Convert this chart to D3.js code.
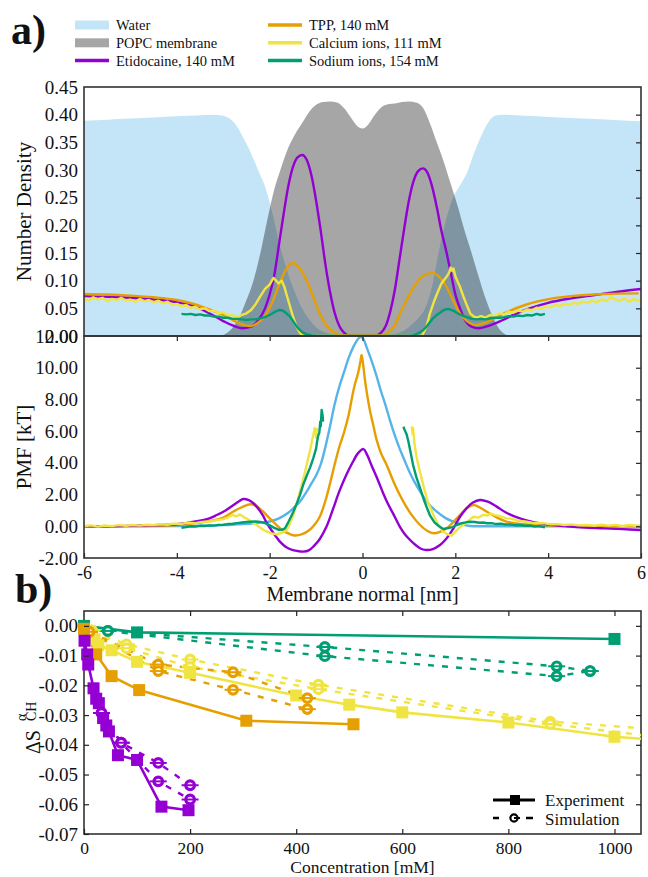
<!DOCTYPE html>
<html><head><meta charset="utf-8">
<script src="https://cdn.jsdelivr.net/npm/d3@7"></script>
<style>
body{margin:0;background:#fff}
svg{display:block}
svg text{font-family:"Liberation Serif","Times New Roman","Nimbus Roman","DejaVu Serif",serif !important;fill:#111}
</style>
</head><body>
<svg id="c" width="648" height="877"></svg>
<script>
// ---------- Panel a: number density ----------
const densWater = [[-6,0.389],[-5.5,0.391],[-5,0.393],[-4.5,0.395],[-4,0.397],[-3.5,0.399],[-3.2,0.400],[-3.0,0.398],[-2.85,0.392],[-2.7,0.378],[-2.55,0.355],[-2.4,0.33],[-2.25,0.30],[-2.1,0.27],[-1.95,0.225],[-1.8,0.17],[-1.65,0.125],[-1.5,0.088],[-1.35,0.058],[-1.2,0.036],[-1.05,0.02],[-0.9,0.01],[-0.75,0.005],[-0.6,0.002],[-0.4,0],[0.4,0],[0.6,0.002],[0.75,0.005],[0.9,0.01],[1.05,0.02],[1.2,0.032],[1.35,0.05],[1.5,0.09],[1.65,0.155],[1.8,0.21],[1.95,0.25],[2.1,0.272],[2.25,0.295],[2.4,0.33],[2.55,0.36],[2.7,0.385],[2.85,0.398],[3.0,0.400],[3.5,0.398],[4,0.396],[4.5,0.394],[5,0.392],[5.5,0.390],[6,0.388]];
const densMembrane = [[-6,0],[-3.1,0],[-2.95,0.004],[-2.8,0.015],[-2.65,0.035],[-2.5,0.065],[-2.35,0.10],[-2.2,0.15],[-2.05,0.21],[-1.9,0.265],[-1.75,0.305],[-1.6,0.34],[-1.45,0.365],[-1.3,0.385],[-1.15,0.405],[-1.0,0.418],[-0.85,0.423],[-0.7,0.424],[-0.55,0.422],[-0.4,0.412],[-0.25,0.395],[-0.12,0.38],[0,0.375],[0.12,0.382],[0.25,0.398],[0.4,0.413],[0.55,0.419],[0.7,0.42],[0.85,0.423],[1.0,0.424],[1.15,0.422],[1.3,0.413],[1.45,0.385],[1.6,0.35],[1.75,0.315],[1.9,0.275],[2.05,0.235],[2.2,0.19],[2.35,0.15],[2.5,0.108],[2.65,0.068],[2.8,0.036],[2.95,0.012],[3.1,0.002],[3.2,0],[6,0]];
const densEtidocaine = [[-6,0.072],[-5.5,0.071],[-5,0.069],[-4.5,0.066],[-4,0.061],[-3.6,0.053],[-3.3,0.041],[-3.0,0.027],[-2.8,0.019],[-2.6,0.014],[-2.4,0.017],[-2.25,0.028],[-2.1,0.05],[-2.0,0.075],[-1.9,0.11],[-1.8,0.165],[-1.7,0.22],[-1.6,0.27],[-1.5,0.305],[-1.4,0.323],[-1.3,0.327],[-1.2,0.318],[-1.1,0.29],[-1.0,0.245],[-0.9,0.19],[-0.8,0.13],[-0.7,0.08],[-0.6,0.042],[-0.5,0.018],[-0.4,0.006],[-0.3,0.001],[0.3,0.001],[0.4,0.006],[0.5,0.018],[0.6,0.045],[0.7,0.085],[0.8,0.14],[0.9,0.195],[1.0,0.245],[1.1,0.28],[1.2,0.298],[1.3,0.303],[1.4,0.295],[1.5,0.27],[1.6,0.233],[1.7,0.19],[1.8,0.155],[1.9,0.115],[2.0,0.075],[2.1,0.05],[2.2,0.03],[2.35,0.017],[2.5,0.014],[2.7,0.018],[3.0,0.028],[3.3,0.04],[3.6,0.05],[4,0.06],[4.5,0.068],[5,0.074],[5.5,0.08],[6,0.085]];
const densTPP = [[-6,0.076],[-5.5,0.075],[-5,0.073],[-4.5,0.07],[-4,0.065],[-3.6,0.057],[-3.3,0.048],[-3.0,0.038],[-2.8,0.029],[-2.6,0.021],[-2.42,0.018],[-2.25,0.024],[-2.1,0.036],[-1.95,0.06],[-1.8,0.092],[-1.65,0.12],[-1.5,0.132],[-1.35,0.122],[-1.2,0.10],[-1.05,0.068],[-0.92,0.04],[-0.8,0.022],[-0.7,0.012],[-0.55,0.004],[-0.4,0.001],[0.4,0.001],[0.55,0.006],[0.7,0.02],[0.81,0.041],[0.95,0.065],[1.1,0.088],[1.24,0.104],[1.38,0.112],[1.52,0.114],[1.66,0.106],[1.81,0.089],[1.95,0.065],[2.1,0.041],[2.25,0.027],[2.45,0.02],[2.7,0.026],[3.03,0.04],[3.5,0.056],[4.1,0.068],[4.6,0.073],[5.2,0.076],[5.95,0.077]];
const densCalcium = [[-6,0.068],[-5.9,0.064],[-5.8,0.07],[-5.7,0.066],[-5.6,0.069],[-5.5,0.063],[-5.4,0.067],[-5.3,0.065],[-5.2,0.069],[-5.1,0.064],[-5,0.066],[-4.9,0.062],[-4.8,0.067],[-4.7,0.063],[-4.6,0.065],[-4.5,0.061],[-4.4,0.064],[-4.3,0.059],[-4.2,0.062],[-4.1,0.057],[-4,0.058],[-3.9,0.054],[-3.8,0.056],[-3.7,0.051],[-3.6,0.053],[-3.5,0.048],[-3.4,0.05],[-3.3,0.045],[-3.2,0.046],[-3.1,0.041],[-3,0.043],[-2.9,0.037],[-2.8,0.038],[-2.7,0.034],[-2.6,0.038],[-2.5,0.041],[-2.4,0.047],[-2.3,0.058],[-2.2,0.072],[-2.1,0.085],[-2.0,0.093],[-1.92,0.105],[-1.86,0.1],[-1.81,0.095],[-1.74,0.1],[-1.68,0.088],[-1.62,0.07],[-1.56,0.053],[-1.49,0.033],[-1.42,0.017],[-1.35,0.006],[-1.28,0],[1.28,0],[1.38,0.017],[1.45,0.04],[1.53,0.06],[1.6,0.075],[1.7,0.095],[1.81,0.107],[1.87,0.115],[1.9,0.124],[1.93,0.118],[1.96,0.122],[2.0,0.108],[2.05,0.098],[2.1,0.089],[2.18,0.07],[2.25,0.055],[2.32,0.041],[2.4,0.035],[2.46,0.033],[2.55,0.036],[2.65,0.033],[2.75,0.038],[2.85,0.036],[2.95,0.041],[3.05,0.039],[3.15,0.044],[3.25,0.042],[3.35,0.046],[3.45,0.044],[3.55,0.048],[3.65,0.047],[3.75,0.051],[3.85,0.049],[3.95,0.053],[4.05,0.052],[4.15,0.056],[4.25,0.054],[4.35,0.058],[4.45,0.056],[4.55,0.06],[4.65,0.058],[4.75,0.062],[4.85,0.06],[4.95,0.064],[5.05,0.061],[5.15,0.066],[5.25,0.063],[5.35,0.07],[5.45,0.066],[5.55,0.064],[5.65,0.068],[5.75,0.062],[5.85,0.067],[5.95,0.063],[6,0.066]];
const densSodium = [[-3.9,0.04],[-3.8,0.039],[-3.7,0.04],[-3.6,0.038],[-3.5,0.039],[-3.4,0.037],[-3.3,0.037],[-3.2,0.035],[-3.1,0.035],[-3.0,0.033],[-2.9,0.033],[-2.8,0.031],[-2.7,0.031],[-2.6,0.03],[-2.5,0.029],[-2.4,0.03],[-2.3,0.03],[-2.2,0.032],[-2.1,0.034],[-2.0,0.038],[-1.9,0.043],[-1.8,0.047],[-1.72,0.046],[-1.64,0.041],[-1.56,0.035],[-1.48,0.025],[-1.4,0.015],[-1.3,0.007],[-1.2,0.003],[-1.1,0.001],[-1.0,0],[1.0,0],[1.1,0.001],[1.2,0.005],[1.3,0.01],[1.38,0.017],[1.45,0.025],[1.52,0.032],[1.6,0.038],[1.67,0.042],[1.75,0.047],[1.85,0.049],[1.95,0.046],[2.05,0.041],[2.15,0.037],[2.25,0.034],[2.35,0.031],[2.45,0.03],[2.55,0.031],[2.65,0.03],[2.75,0.032],[2.85,0.033],[2.95,0.033],[3.05,0.034],[3.15,0.036],[3.25,0.035],[3.35,0.037],[3.45,0.036],[3.55,0.038],[3.65,0.037],[3.75,0.04],[3.85,0.038],[3.93,0.04]];

// ---------- Panel a: PMF ----------
const pmfBlue = [[-6,0],[-5,0],[-4,0.01],[-3.5,0.03],[-3.0,0.07],[-2.7,0.12],[-2.4,0.18],[-2.2,0.24],[-2.0,0.3],[-1.8,0.5],[-1.6,0.85],[-1.45,1.25],[-1.35,1.55],[-1.2,2.2],[-1.1,2.7],[-1.0,3.2],[-0.9,3.9],[-0.8,5.0],[-0.7,6.3],[-0.6,7.7],[-0.5,8.8],[-0.4,9.7],[-0.3,10.6],[-0.2,11.3],[-0.1,11.8],[-0.04,11.95],[0.02,11.8],[0.1,11.2],[0.2,10.4],[0.3,9.5],[0.4,8.5],[0.5,7.6],[0.6,6.6],[0.7,5.7],[0.8,4.9],[0.9,4.2],[1.0,3.5],[1.12,2.8],[1.24,2.2],[1.4,1.5],[1.6,0.92],[1.8,0.5],[1.96,0.29],[2.15,0.1],[2.32,0.02],[2.6,0],[6,0]];
const pmfTPP = [[-6,0],[-5,0.01],[-4.5,0.04],[-4,0.08],[-3.6,0.2],[-3.3,0.33],[-3.0,0.55],[-2.8,0.9],[-2.6,1.2],[-2.42,1.39],[-2.3,1.3],[-2.15,0.95],[-2.0,0.5],[-1.85,0.08],[-1.7,-0.3],[-1.56,-0.5],[-1.45,-0.58],[-1.3,-0.5],[-1.15,-0.25],[-1.02,0.15],[-0.92,0.6],[-0.8,1.6],[-0.7,2.7],[-0.6,3.9],[-0.5,5.0],[-0.4,5.9],[-0.3,7.0],[-0.22,8.2],[-0.16,9.0],[-0.1,9.6],[-0.05,10.3],[-0.02,10.8],[0.01,10.3],[0.05,9.3],[0.1,8.3],[0.16,7.3],[0.23,6.4],[0.3,5.5],[0.4,4.6],[0.52,3.87],[0.7,2.6],[0.88,1.55],[1.05,0.75],[1.24,0.08],[1.4,-0.3],[1.53,-0.44],[1.67,-0.35],[1.81,-0.13],[1.95,0.25],[2.1,0.71],[2.25,1.15],[2.39,1.34],[2.52,1.2],[2.68,0.92],[2.9,0.55],[3.1,0.3],[3.4,0.15],[3.75,0.08],[4.5,0.03],[5,0.01],[6,0]];
const pmfEtidocaine = [[-6,0],[-5.5,0],[-5,0.03],[-4.5,0.07],[-4,0.13],[-3.6,0.3],[-3.3,0.5],[-3.14,0.71],[-2.95,1.0],[-2.78,1.34],[-2.65,1.6],[-2.57,1.72],[-2.45,1.65],[-2.35,1.45],[-2.28,1.24],[-2.15,0.7],[-2.06,0.2],[-1.95,-0.3],[-1.85,-0.7],[-1.78,-0.97],[-1.65,-1.3],[-1.5,-1.5],[-1.35,-1.58],[-1.28,-1.6],[-1.15,-1.5],[-1.05,-1.25],[-0.92,-0.8],[-0.78,-0.05],[-0.63,1.13],[-0.5,2.2],[-0.34,3.3],[-0.2,4.1],[-0.1,4.6],[0.02,4.87],[0.1,4.5],[0.2,3.8],[0.32,3.0],[0.45,2.05],[0.55,1.4],[0.66,0.8],[0.8,0.0],[0.9,-0.45],[1.02,-0.85],[1.15,-1.2],[1.25,-1.4],[1.35,-1.49],[1.5,-1.45],[1.67,-1.18],[1.8,-0.8],[1.96,-0.13],[2.1,0.6],[2.24,1.13],[2.38,1.5],[2.53,1.66],[2.7,1.55],[2.89,1.24],[3.1,0.85],[3.39,0.5],[3.7,0.25],[4.1,0.08],[4.6,-0.05],[5.2,-0.13],[5.6,-0.18],[6,-0.23]];
const pmfSodiumL = [[-3.9,-0.09],[-3.8,-0.05],[-3.7,0.0],[-3.6,-0.02],[-3.5,0.03],[-3.4,0.02],[-3.3,0.06],[-3.2,0.04],[-3.1,0.09],[-3.0,0.1],[-2.9,0.14],[-2.8,0.16],[-2.7,0.2],[-2.6,0.24],[-2.5,0.27],[-2.42,0.29],[-2.3,0.3],[-2.2,0.28],[-2.1,0.2],[-2.0,0.06],[-1.9,-0.1],[-1.8,-0.22],[-1.72,-0.2],[-1.67,-0.13],[-1.6,0.25],[-1.54,0.6],[-1.49,0.92],[-1.42,1.4],[-1.35,1.95],[-1.28,2.6],[-1.2,3.2],[-1.13,3.7],[-1.06,4.3],[-1.0,4.9],[-0.97,5.5],[-0.95,5.76],[-0.93,5.9],[-0.91,6.6],[-0.9,6.3],[-0.88,7.33],[-0.86,7.0],[-0.85,6.6]];
const pmfSodiumR = [[0.88,6.28],[0.92,6.0],[0.95,5.8],[0.99,5.33],[1.04,4.6],[1.09,3.86],[1.16,3.1],[1.24,2.4],[1.33,1.6],[1.45,0.71],[1.55,0.25],[1.65,0.0],[1.74,-0.17],[1.84,-0.12],[1.94,-0.05],[2.03,0.08],[2.12,0.18],[2.22,0.25],[2.32,0.29],[2.42,0.27],[2.52,0.22],[2.6,0.24],[2.68,0.19],[2.78,0.2],[2.88,0.14],[2.98,0.16],[3.08,0.11],[3.18,0.12],[3.28,0.07],[3.39,0.08],[3.5,0.03],[3.6,0.05],[3.7,-0.01],[3.8,0.01],[3.93,-0.06]];
const pmfCalciumL = [[-6,0.0],[-5.85,0.06],[-5.7,-0.02],[-5.55,0.05],[-5.4,0.01],[-5.25,0.07],[-5.1,0.03],[-4.95,0.08],[-4.8,0.04],[-4.65,0.1],[-4.5,0.07],[-4.35,0.13],[-4.2,0.1],[-4.05,0.17],[-3.9,0.15],[-3.75,0.22],[-3.6,0.2],[-3.45,0.28],[-3.3,0.3],[-3.15,0.38],[-3.0,0.45],[-2.9,0.55],[-2.8,0.72],[-2.72,0.62],[-2.64,0.75],[-2.56,0.58],[-2.5,0.5],[-2.42,0.35],[-2.35,0.2],[-2.28,0.08],[-2.2,-0.1],[-2.12,-0.25],[-2.06,-0.34],[-1.96,-0.45],[-1.85,-0.5],[-1.74,-0.42],[-1.63,-0.23],[-1.56,0.2],[-1.49,0.71],[-1.4,1.6],[-1.31,2.6],[-1.24,3.4],[-1.17,4.29],[-1.12,4.9],[-1.08,5.5],[-1.06,5.76],[-1.03,6.2],[-1.0,5.6],[-0.98,6.2]];
const pmfCalciumR = [[1.06,6.3],[1.08,5.8],[1.09,6.18],[1.12,5.2],[1.17,4.29],[1.24,3.4],[1.31,2.6],[1.4,1.6],[1.53,0.71],[1.63,0.1],[1.74,-0.34],[1.83,-0.5],[1.92,-0.59],[2.0,-0.35],[2.08,-0.1],[2.17,0.08],[2.28,0.35],[2.39,0.6],[2.5,0.55],[2.6,0.72],[2.7,0.68],[2.75,0.82],[2.85,0.7],[2.95,0.66],[3.1,0.5],[3.2,0.48],[3.35,0.35],[3.5,0.3],[3.65,0.22],[3.75,0.19],[3.9,0.2],[4.05,0.12],[4.2,0.14],[4.35,0.08],[4.5,0.12],[4.65,0.06],[4.83,0.08],[5.0,0.03],[5.15,0.1],[5.3,0.04],[5.45,0.09],[5.6,0.02],[5.75,0.08],[5.9,0.03],[6.0,0.06]];

// ---------- Panel b: order parameter change ----------
const expSodium = [[0,0.0],[100,-0.0022],[1000,-0.0044]];
const simSodiumA = [[45,-0.0017],[454,-0.0071],[891,-0.0136],[954,-0.0152]];
const simSodiumB = [[45,-0.0017],[454,-0.0102],[891,-0.0169],[954,-0.0152]];
const expCalcium = [[5,-0.002],[20,-0.0045],[27,-0.0065],[52,-0.0082],[100,-0.0121],[200,-0.0158],[400,-0.0234],[500,-0.0265],[600,-0.0291],[800,-0.0325],[1000,-0.0373],[1200,-0.0400]];
const simCalciumA = [[15,-0.0015],[80,-0.0062],[200,-0.0113],[442,-0.0198],[879,-0.0322],[1300,-0.0376]];
const simCalciumB = [[15,-0.0015],[80,-0.0075],[200,-0.0138],[442,-0.0213],[879,-0.0330],[1300,-0.0421]];
const expTPP = [[0,-0.001],[23,-0.0096],[52,-0.0169],[104,-0.0216],[306,-0.0319],[508,-0.0331]];
const simTPPA = [[10,-0.002],[140,-0.0130],[281,-0.0156],[421,-0.0243]];
const simTPPB = [[10,-0.002],[140,-0.0152],[281,-0.0215],[421,-0.0280]];
const expEtidocaine = [[1,-0.005],[6,-0.0096],[8,-0.013],[18,-0.021],[23,-0.0245],[28,-0.026],[36,-0.031],[42,-0.0335],[47,-0.0355],[64,-0.0435],[100,-0.0451],[146,-0.0608],[197,-0.062]];
const simEtidocaineA = [[33,-0.0293],[70,-0.0393],[140,-0.0461],[200,-0.0536]];
const simEtidocaineB = [[33,-0.0293],[70,-0.0393],[140,-0.0523],[200,-0.0584]];

const densTicks = [0,0.05,0.10,0.15,0.20,0.25,0.30,0.35,0.40,0.45];
const pmfTicks = [-2,0,2,4,6,8,10,12];
const normalTicks = [-6,-4,-2,0,2,4,6];
const concTicks = [0,200,400,600,800,1000];
const dsTicks = [0,-0.01,-0.02,-0.03,-0.04,-0.05,-0.06,-0.07];
const legendA = [
  {label:"Water", kind:"patch", color:"rgba(86,180,233,0.35)"},
  {label:"POPC membrane", kind:"patch", color:"rgba(0,0,0,0.35)"},
  {label:"Etidocaine, 140 mM", kind:"line", color:"#9400D3"},
  {label:"TPP, 140 mM", kind:"line", color:"#E69F00"},
  {label:"Calcium ions, 111 mM", kind:"line", color:"#F0E442"},
  {label:"Sodium ions, 154 mM", kind:"line", color:"#009E73"}
];

const C = {water:"rgba(86,180,233,0.35)", memb:"rgba(0,0,0,0.35)", blue:"#56B4E9", purple:"#9400D3", orange:"#E69F00", yellow:"#F0E442", green:"#009E73"};
const FONT = "'Liberation Serif','Times New Roman','Nimbus Roman','DejaVu Serif',serif";

const svg = d3.select("#c");
const L = 84, R = 641;
const x = d3.scaleLinear([-6,6],[L,R]);
const yD = d3.scaleLinear([0,0.45],[336,87]);
const yP = d3.scaleLinear([-2,12],[558,336]);
const xB = d3.scaleLinear([0,1050],[L,R]);
const yB = d3.scaleLinear([-0.07,0.005],[834,611]);

const defs = svg.append("defs");
function clip(id, y0, y1){ defs.append("clipPath").attr("id",id).append("rect").attr("x",L).attr("y",y0).attr("width",R-L).attr("height",y1-y0); }
clip("cD",87,336); clip("cP",336,558); clip("cB",611,834);

const smooth = d3.curveCatmullRom.alpha(0.5);

// ---- density panel ----
const gD = svg.append("g").attr("clip-path","url(#cD)");
const area = d3.area().x(d=>x(d[0])).y0(yD(0)).y1(d=>yD(Math.max(0,d[1]))).curve(d3.curveMonotoneX);
gD.append("path").datum(densWater).attr("d",area).attr("fill",C.water);
gD.append("path").datum(densMembrane).attr("d",area).attr("fill",C.memb);
const lineD = d3.line().x(d=>x(d[0])).y(d=>yD(d[1])).curve(d3.curveMonotoneX);
const lineDr = d3.line().x(d=>x(d[0])).y(d=>yD(d[1]));
[[densEtidocaine,C.purple,lineD],[densTPP,C.orange,lineD],[densCalcium,C.yellow,lineDr],[densSodium,C.green,lineDr]].forEach(([d,c,ln])=>{
  gD.append("path").datum(d).attr("d",ln).attr("fill","none").attr("stroke",c).attr("stroke-width",2.4).attr("stroke-linejoin","round");
});

// ---- PMF panel ----
const gP = svg.append("g").attr("clip-path","url(#cP)");
const lineP = d3.line().x(d=>x(d[0])).y(d=>yP(d[1])).curve(smooth);
const linePr = d3.line().x(d=>x(d[0])).y(d=>yP(d[1]));
[[pmfBlue,C.blue,lineP],[pmfTPP,C.orange,lineP],[pmfEtidocaine,C.purple,lineP],[pmfCalciumL,C.yellow,linePr],[pmfCalciumR,C.yellow,linePr],[pmfSodiumL,C.green,linePr],[pmfSodiumR,C.green,linePr]].forEach(([d,c,ln])=>{
  gP.append("path").datum(d).attr("d",ln).attr("fill","none").attr("stroke",c).attr("stroke-width",2.4).attr("stroke-linejoin","round");
});

// ---- axes helpers ----
function styleAxis(g, size){
  g.attr("font-family",null);
  g.select(".domain").remove();
  g.selectAll("text").attr("style",`font-family:${FONT};font-size:${size}px`).attr("fill","#111");
  g.selectAll("line").attr("stroke","#222").attr("stroke-width",1.2);
}
const f2 = v => v.toFixed(2);
const fi = v => String(v);
function txt(sel, size, weight){ return sel.attr("style",`font-family:${FONT};font-size:${size}px;font-weight:${weight||"normal"}`); }

// density axes
svg.append("g").attr("transform",`translate(${L},0)`).call(d3.axisLeft(yD).tickValues(densTicks).tickFormat(f2).tickSize(0).tickPadding(6)).call(g=>styleAxis(g,19));
svg.append("g").attr("transform",`translate(${R},0)`).call(d3.axisRight(yD).tickValues(densTicks.slice(1,9)).tickFormat("").tickSize(-5)).call(g=>styleAxis(g,19));
// PMF axes
svg.append("g").attr("transform",`translate(${L},0)`).call(d3.axisLeft(yP).tickValues(pmfTicks).tickFormat(f2).tickSize(0).tickPadding(6)).call(g=>styleAxis(g,19));
svg.append("g").attr("transform",`translate(${R},0)`).call(d3.axisRight(yP).tickValues(pmfTicks.slice(1,7)).tickFormat("").tickSize(-5)).call(g=>styleAxis(g,19));
svg.append("g").attr("transform",`translate(0,558)`).call(d3.axisBottom(x).tickValues(normalTicks).tickFormat(fi).tickSize(-5).tickPadding(8)).call(g=>styleAxis(g,18));
svg.append("g").attr("transform",`translate(0,336)`).call(d3.axisTop(x).tickValues(normalTicks.slice(1,6)).tickFormat("").tickSize(-5)).call(g=>styleAxis(g,18));

// frames
[[87,336],[336,558],[611,834]].forEach(([a,b])=>{
  svg.append("rect").attr("x",L).attr("y",a).attr("width",R-L).attr("height",b-a).attr("fill","none").attr("stroke","#333").attr("stroke-width",1.6);
});

// labels panel a
txt(svg.append("text").attr("transform","translate(31,211.5) rotate(-90)").attr("text-anchor","middle"),21).text("Number Density");
txt(svg.append("text").attr("transform","translate(31,447) rotate(-90)").attr("text-anchor","middle"),21).text("PMF [kT]");
txt(svg.append("text").attr("x",362.5).attr("y",601).attr("text-anchor","middle"),20).text("Membrane normal [nm]");
txt(svg.append("text").attr("x",11).attr("y",44),42,"bold").text("a)");
txt(svg.append("text").attr("x",15).attr("y",603),42,"bold").text("b)");

// legend a
legendA.forEach((d,i)=>{
  const col = Math.floor(i/3), row = i%3;
  const x0 = col ? 268 : 75, cy = 25 + row*17.8;
  if(d.kind==="patch") svg.append("rect").attr("x",x0).attr("y",cy-4.5).attr("width",34).attr("height",9).attr("fill",d.color);
  else svg.append("line").attr("x1",x0).attr("x2",x0+34).attr("y1",cy).attr("y2",cy).attr("stroke",d.color).attr("stroke-width",3.5);
  txt(svg.append("text").attr("x",x0+41).attr("y",cy+5),14.5).text(d.label);
});

// ---- panel b ----
const gB = svg.append("g");
const gBc = gB.append("g").attr("clip-path","url(#cB)");
const lineB = d3.line().x(d=>xB(d[0])).y(d=>yB(d[1]));
function drawSet(exp, simA, simB, color){
  [simA, simB].forEach(s=>{
    gBc.append("path").datum(s).attr("d",lineB).attr("fill","none").attr("stroke",color).attr("stroke-width",2.4).attr("stroke-dasharray","6,8");
  });
  gBc.append("path").datum(exp).attr("d",lineB).attr("fill","none").attr("stroke",color).attr("stroke-width",2.6);
  const simPts = simA.concat(simB).filter(d=>d[0]<=1050);
  const sg = gB.append("g");
  simPts.forEach(d=>{
    sg.append("circle").attr("cx",xB(d[0])).attr("cy",yB(d[1])).attr("r",4.3).attr("fill","#fff").attr("stroke",color).attr("stroke-width",3.2);
    sg.append("line").attr("x1",xB(d[0])-8.5).attr("x2",xB(d[0])+8.5).attr("y1",yB(d[1])).attr("y2",yB(d[1])).attr("stroke",color).attr("stroke-width",2);
  });
  gB.append("g").selectAll("rect").data(exp.filter(d=>d[0]<=1050)).join("rect")
    .attr("x",d=>xB(d[0])-6).attr("y",d=>yB(d[1])-6).attr("width",12).attr("height",12).attr("fill",color);
}
drawSet(expSodium, simSodiumA, simSodiumB, C.green);
drawSet(expCalcium, simCalciumA, simCalciumB, C.yellow);
drawSet(expTPP, simTPPA, simTPPB, C.orange);
drawSet(expEtidocaine, simEtidocaineA, simEtidocaineB, C.purple);

svg.append("g").attr("transform",`translate(${L},0)`).call(d3.axisLeft(yB).tickValues(dsTicks).tickFormat(f2).tickSize(-5).tickPadding(6)).call(g=>styleAxis(g,19));
svg.append("g").attr("transform",`translate(${R},0)`).call(d3.axisRight(yB).tickValues(dsTicks.slice(0,7)).tickFormat("").tickSize(-5)).call(g=>styleAxis(g,19));
svg.append("g").attr("transform",`translate(0,834)`).call(d3.axisBottom(xB).tickValues(concTicks).tickFormat(fi).tickSize(-5).tickPadding(8)).call(g=>styleAxis(g,17.5));
svg.append("g").attr("transform",`translate(0,611)`).call(d3.axisTop(xB).tickValues(concTicks.slice(1)).tickFormat("").tickSize(-5)).call(g=>styleAxis(g,17.5));

txt(svg.append("text").attr("x",362.5).attr("y",873).attr("text-anchor","middle"),17.5).text("Concentration [mM]");
const ds = txt(svg.append("text").attr("transform","translate(40,726) rotate(-90)"),20);
ds.append("tspan").attr("x",-28).attr("y",0).text("ΔS");
ds.append("tspan").attr("x",5).attr("y",-14).attr("style","font-size:14px").text("α");
ds.append("tspan").attr("x",5).attr("y",-4).attr("style","font-size:14px").text("CH");

// legend b
svg.append("line").attr("x1",493).attr("x2",535).attr("y1",800).attr("y2",800).attr("stroke","#000").attr("stroke-width",3);
svg.append("rect").attr("x",510).attr("y",795).attr("width",10).attr("height",10).attr("fill","#000");
txt(svg.append("text").attr("x",545).attr("y",806),17).text("Experiment");
svg.append("line").attr("x1",493).attr("x2",499).attr("y1",818).attr("y2",818).attr("stroke","#000").attr("stroke-width",2.5);
svg.append("line").attr("x1",526).attr("x2",533).attr("y1",818).attr("y2",818).attr("stroke","#000").attr("stroke-width",2.5);
svg.append("circle").attr("cx",514).attr("cy",818).attr("r",3.6).attr("fill","#fff").attr("stroke","#000").attr("stroke-width",2.2);
svg.append("line").attr("x1",514).attr("x2",520).attr("y1",818).attr("y2",818).attr("stroke","#000").attr("stroke-width",2);
txt(svg.append("text").attr("x",545).attr("y",825),17).text("Simulation");
</script>
</body></html>
